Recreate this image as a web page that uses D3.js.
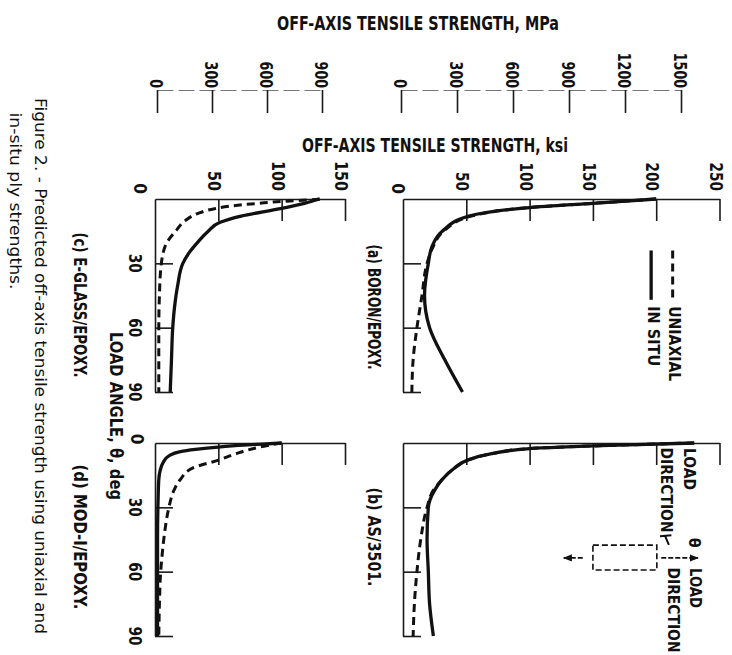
<!DOCTYPE html>
<html>
<head>
<meta charset="utf-8">
<script src="https://cdn.jsdelivr.net/npm/d3@7"></script>
<style>
  body { margin: 0; background: #fff; }
  text { font-family: "DejaVu Sans Condensed", "Liberation Sans Narrow", "DejaVu Sans", sans-serif; fill: #111; font-weight: bold; }
  .scan { font-family: "DejaVu Sans", "Liberation Sans", sans-serif; font-weight: normal; }
</style>
</head>
<body>
<script>
// values (strength in ksi, load angle in deg)
const boronAngle = [0, 2, 4, 8, 15, 22, 30, 45, 60, 75, 90];
const boronUniaxial = [200, 150, 100, 54, 32, 24, 19, 15, 11, 8, 7];
const boronInSitu = [200, 150, 100, 52, 31, 23, 20, 17, 21, 33, 47];

const asAngle = [0, 1, 2.6, 5, 8, 12, 17, 22, 30, 45, 60, 75, 90];
const asUniaxial = [230, 170, 100, 70, 51, 40, 31, 24, 19, 14, 11, 9, 8];
const asInSitu = [230, 170, 100, 70, 51, 40, 31, 25, 20, 19, 20, 21, 24];

const glassAngleU = [0, 0.5, 1, 2, 2.8, 4.5, 6.5, 10, 14.5, 22, 33, 45, 60, 90];
const glassUniaxial = [130, 120, 104, 82, 67, 47, 35, 24, 17, 8, 4.5, 3.5, 3, 3];
const glassAngleS = [0, 2, 4.5, 8, 11, 15, 20, 25, 30, 40, 50, 60, 75, 90];
const glassInSitu = [130, 118, 99, 68, 51, 42, 34, 27, 22, 18, 15.5, 14, 13, 12];

const modAngleU = [0, 1, 2, 3.3, 5, 8, 11.6, 17, 22, 30, 40, 50, 60, 75, 90];
const modUniaxial = [100, 90, 82, 73, 64, 50, 30, 20, 15, 11, 8, 6, 4.5, 3.5, 3];
const modAngleS = [0, 0.5, 1, 1.9, 3, 4, 6, 9, 13, 17, 25, 45, 90];
const modInSitu = [100, 85, 70, 50, 32, 20, 11, 6.5, 4, 3, 2.5, 2, 2];

const ksiTicksLeft = [50, 100, 150];
const ksiTicksRight = [50, 100, 150, 200, 250];
const mpaTicksLeft = [0, 300, 600, 900];
const mpaTicksRight = [0, 300, 600, 900, 1200, 1500];
const angleTicks = [30, 60, 90];

const width = 732, height = 655;

const svg = d3.select("body").append("svg")
    .attr("width", width)
    .attr("height", height);

// scales: strength runs left -> right, load angle runs top -> bottom
const xLeft = d3.scaleLinear().domain([0, 150]).range([155, 345]);
const xRight = d3.scaleLinear().domain([0, 250]).range([403, 719.5]);
const yTop = d3.scaleLinear().domain([0, 90]).range([199, 392]);
const yBottom = d3.scaleLinear().domain([0, 90]).range([443, 636]);
const mpaLeft = d3.scaleLinear().domain([0, 900]).range([157, 322]);
const mpaRight = d3.scaleLinear().domain([0, 1500]).range([401, 681]);

function vtext(x, y, str, size, len, anchor, cls) {
    const t = svg.append("text")
        .attr("class", cls || null)
        .attr("transform", "translate(" + x + "," + y + ") rotate(90)")
        .attr("text-anchor", anchor || "middle")
        .attr("dominant-baseline", "central")
        .style("font-size", size + "px")
        .text(str);
    if (len) t.attr("textLength", len).attr("lengthAdjust", "spacingAndGlyphs");
    return t;
}

function styleAxis(g, w) {
    g.selectAll("path.domain").attr("stroke", "#1a1a1a").attr("stroke-width", w);
    g.selectAll(".tick line").attr("stroke", "#1a1a1a").attr("stroke-width", w);
    g.selectAll(".tick text").remove();
}

function pairs(angle, vals) {
    return angle.map((a, i) => ({ a: a, v: vals[i] }));
}

function drawPanel(x, y, ticks, uA, uV, sA, sV) {
    const gx = svg.append("g")
        .attr("transform", "translate(0," + y(0) + ")")
        .call(d3.axisBottom(x).tickValues(ticks).tickSize(22).tickSizeOuter(0));
    styleAxis(gx, 1.6);
    const gy = svg.append("g")
        .attr("transform", "translate(" + x(0) + ",0)")
        .call(d3.axisRight(y).tickValues(angleTicks).tickSize(18).tickSizeOuter(0));
    styleAxis(gy, 1.6);

    const line = d3.line()
        .x(d => x(d.v))
        .y(d => y(d.a))
        .curve(d3.curveMonotoneY);

    svg.append("path")
        .datum(pairs(uA, uV))
        .attr("d", line)
        .attr("fill", "none")
        .attr("stroke", "#111")
        .attr("stroke-width", 3)
        .attr("stroke-dasharray", "8,5");
    svg.append("path")
        .datum(pairs(sA, sV))
        .attr("d", line)
        .attr("fill", "none")
        .attr("stroke", "#111")
        .attr("stroke-width", 3.3);
}

drawPanel(xLeft, yTop, ksiTicksLeft, glassAngleU, glassUniaxial, glassAngleS, glassInSitu);
drawPanel(xRight, yTop, ksiTicksRight, boronAngle, boronUniaxial, boronAngle, boronInSitu);
drawPanel(xLeft, yBottom, ksiTicksLeft, modAngleU, modUniaxial, modAngleS, modInSitu);
drawPanel(xRight, yBottom, ksiTicksRight, asAngle, asUniaxial, asAngle, asInSitu);

// MPa axes on top
[[mpaLeft, mpaTicksLeft], [mpaRight, mpaTicksRight]].forEach(([s, t]) => {
    const g = svg.append("g")
        .attr("transform", "translate(0,90)")
        .call(d3.axisBottom(s).tickValues(t).tickSize(23).tickSizeOuter(0));
    styleAxis(g, 1.6);
    g.select("path.domain").attr("stroke", "#777").attr("stroke-width", 1).attr("stroke-dasharray", "16,5");
    t.forEach(v => vtext(s(v) - 1, 88, String(v), 17, String(v).length * 8.8, "end"));
});

// ksi tick labels
ksiTicksLeft.forEach(v => vtext(xLeft(v) - 4, 191, String(v), 17, String(v).length * 10, "end"));
ksiTicksRight.forEach(v => vtext(xRight(v) - 4, 191, String(v), 17, String(v).length * 9.5, "end"));
vtext(140, 194, "0", 17, null, "end");
vtext(398, 194, "0", 17, null, "end");

// load angle tick labels
vtext(137, yBottom(0) - 4, "0", 17);
angleTicks.forEach(v => {
    vtext(135, yTop(v), String(v), 17, 19);
    vtext(135, yBottom(v), String(v), 17, 19);
});

// axis titles
svg.append("text").attr("x", 418).attr("y", 30).attr("text-anchor", "middle")
    .style("font-size", "19px").attr("textLength", 282).attr("lengthAdjust", "spacingAndGlyphs")
    .text("OFF-AXIS TENSILE STRENGTH, MPa");
svg.append("text").attr("x", 435).attr("y", 152).attr("text-anchor", "middle")
    .style("font-size", "20px").attr("textLength", 266).attr("lengthAdjust", "spacingAndGlyphs")
    .text("OFF-AXIS TENSILE STRENGTH, ksi");
vtext(116, 416, "LOAD ANGLE, θ, deg", 17, 168);

// panel labels
vtext(374, 307, "(a) BORON/EPOXY.", 17, 125);
vtext(374, 537, "(b) AS/3501.", 17, 99);
vtext(80, 305, "(c) E-GLASS/EPOXY.", 17, 145);
vtext(80, 537, "(d) MOD-I/EPOXY.", 17, 145);

// caption
vtext(40, 366, "Figure 2. - Predicted off-axis tensile strength using uniaxial and", 16, 536, "middle", "scan");
vtext(15, 201, "in-situ ply strengths.", 16, 177, "middle", "scan");

// legend in panel (a)
[[213, "8,5", 3, "UNIAXIAL", 75], [196, null, 3.3, "IN SITU", 60]].forEach(([v, dash, w, label, len]) => {
    svg.append("line")
        .attr("x1", xRight(v)).attr("x2", xRight(v))
        .attr("y1", yTop(24)).attr("y2", yTop(47))
        .attr("stroke", "#111").attr("stroke-width", w)
        .attr("stroke-dasharray", dash);
    vtext(xRight(v) + 2, yTop(50), label, 16, len, "start");
});

// load direction sketch in panel (b)
svg.append("rect")
    .attr("x", xRight(150)).attr("y", yBottom(47.6))
    .attr("width", xRight(200.5) - xRight(150))
    .attr("height", yBottom(59.2) - yBottom(47.6))
    .attr("fill", "none").attr("stroke", "#111").attr("stroke-width", 1.6)
    .attr("stroke-dasharray", "6,3");
svg.append("defs").append("marker")
    .attr("id", "arr").attr("viewBox", "0 0 10 10").attr("refX", 9).attr("refY", 5)
    .attr("markerWidth", 5).attr("markerHeight", 5).attr("orient", "auto")
    .append("path").attr("d", "M0,1L10,5L0,9z").attr("fill", "#111");
[[142, 127], [204, 233]].forEach(([a, b]) => {
    svg.append("line")
        .attr("x1", xRight(a)).attr("x2", xRight(b))
        .attr("y1", yBottom(53.6)).attr("y2", yBottom(53.6))
        .attr("stroke", "#111").attr("stroke-width", 1.8)
        .attr("stroke-dasharray", "5,2")
        .attr("marker-end", "url(#arr)");
});
svg.append("path")
    .attr("d", "M" + xRight(203) + "," + yBottom(43.5) + "L" + xRight(212) + "," + yBottom(43) +
        "M" + xRight(207) + "," + yBottom(43.3) + "L" + xRight(210) + "," + yBottom(47.5))
    .attr("stroke", "#111").attr("stroke-width", 2).attr("fill", "none");
vtext(xRight(230.5), yBottom(46.5), "θ", 16);
vtext(xRight(226), 469, "LOAD", 16, 42);
vtext(xRight(208), 490, "DIRECTION", 16, 85);
vtext(xRight(231), 588, "LOAD", 16, 40);
vtext(xRight(214), 610, "DIRECTION", 16, 85);
</script>
</body>
</html>
